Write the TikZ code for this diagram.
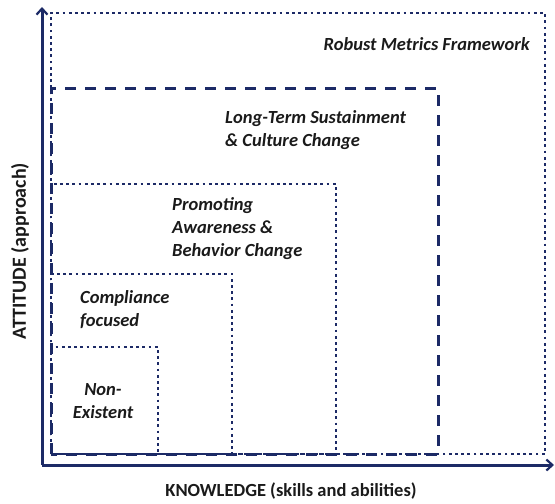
\documentclass[tikz,border=0pt]{standalone}
\usepackage{fontspec}
\setmainfont{Carlito}
\usetikzlibrary{arrows.meta}
\definecolor{navy}{HTML}{1C2A66}
\definecolor{txt}{HTML}{1A1A1A}
\tikzset{
  dotbox/.style={draw=navy, line width=2.8pt, dash pattern=on 2.8pt off 3.4pt},
  dashbox/.style={draw=navy, line width=3pt, dash pattern=on 11pt off 9pt},
  axisline/.style={draw=navy, line width=3pt, -{Straight Barb[length=6pt,width=11pt,line width=2.2pt]}},
  lbl/.style={text=txt, font=\fontsize{18.5}{23}\selectfont\bfseries\itshape, align=left, inner sep=0pt},
  axlbl/.style={text=txt, font=\fontsize{18.5}{20}\selectfont\bfseries, inner sep=0pt}
}
\begin{document}
\begin{tikzpicture}[x=1pt,y=-1pt]
\useasboundingbox (0,0) rectangle (555,504);
% box corners
\coordinate (bl) at (51,454);
\coordinate (r1) at (545,13);
\coordinate (r2) at (438,88);
\coordinate (r3) at (336,184);
\coordinate (r4) at (232,274);
\coordinate (r5) at (158,347);
\draw[dotbox] (bl) rectangle (r1);
\draw[dashbox] (bl) rectangle (r2);
\draw[dotbox] (bl) rectangle (r3);
\draw[dotbox] (bl) rectangle (r4);
\draw[dotbox] (bl) rectangle (r5);
% axes
\coordinate (o) at (42,465);
\coordinate (ytip) at (42,7);
\coordinate (xtip) at (554,465);
\draw[axisline] (o) -- (ytip);
\draw[axisline] (o) -- (xtip);
% labels
\node[lbl, anchor=east] (rmf) at (530,44) {Robust Metrics Framework};
\node[lbl, anchor=west] (lts) at (225,130) {Long-Term Sustainment\\\& Culture Change};
\node[lbl, anchor=west] (pab) at (172,229) {Promoting\\Awareness \&\\Behavior Change};
\node[lbl, anchor=west] (cf) at (80,310) {Compliance\\focused};
\node[lbl, align=center] (ne) at (103,401) {Non-\\Existent};
\node[axlbl] (kn) at (291,491) {KNOWLEDGE (skills and abilities)};
\node[axlbl, font=\fontsize{20}{22}\selectfont\bfseries, rotate=90] (at) at (20,251) {ATTITUDE (approach)};
\end{tikzpicture}
\end{document}
